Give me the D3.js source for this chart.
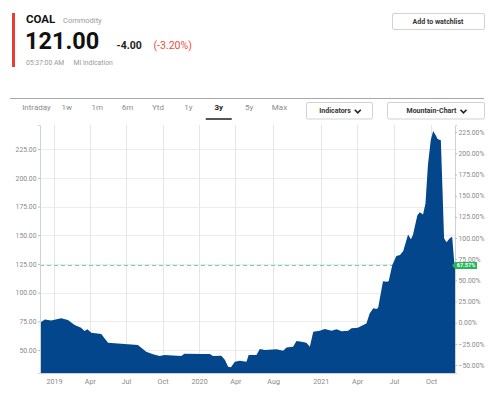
<!DOCTYPE html>
<html lang="en">
<head>
    <meta charset="UTF-8">
    <title>coal</title>
    <script src="https://cdn.jsdelivr.net/npm/d3@7/dist/d3.min.js"></script>
    <style>
        body { margin: 0; background: #fff; }
        text { font-family: Roboto, "Liberation Sans", sans-serif; }
    </style>
</head>
<body>
    <script>
        // weekly-ish closes
        var quoteDates = [
            "2018-11-27","2018-12-09","2018-12-25","2019-01-19","2019-02-05","2019-02-22","2019-03-10",
            "2019-03-19","2019-03-26","2019-04-05","2019-04-30","2019-05-08","2019-05-17","2019-06-19",
            "2019-07-31","2019-08-21","2019-09-07","2019-09-24","2019-10-06","2019-11-17","2019-11-25",
            "2020-01-10","2020-01-28","2020-02-05","2020-02-26","2020-03-06","2020-03-14","2020-03-21",
            "2020-03-31","2020-04-16","2020-05-07","2020-05-14","2020-06-08","2020-06-19","2020-07-05",
            "2020-08-12","2020-09-02","2020-09-13","2020-10-04","2020-10-15","2020-10-31","2020-11-16",
            "2020-11-27","2020-12-08","2020-12-29","2021-01-11","2021-01-28","2021-02-09","2021-02-22",
            "2021-03-10","2021-03-18","2021-04-03","2021-04-16","2021-04-24","2021-05-02","2021-05-11",
            "2021-05-19","2021-05-23","2021-06-04","2021-06-13","2021-06-18","2021-06-27","2021-07-07",
            "2021-07-16","2021-07-24","2021-08-05","2021-08-12","2021-08-17","2021-08-28","2021-09-03",
            "2021-09-11","2021-09-17","2021-09-23","2021-09-30","2021-10-06","2021-10-12","2021-10-17",
            "2021-10-25","2021-10-29","2021-11-02","2021-11-08","2021-11-16","2021-11-22","2021-11-27",
            "2021-11-29"
        ]
        var quotePrices = [
            73.8, 76.7, 75.8, 77.6, 76.1, 71.8, 69.4,
            66.5, 68.0, 65.0, 63.9, 60.2, 56.4, 55.5,
            54.4, 48.5, 46.3, 44.8, 45.6, 44.8, 46.8,
            46.5, 46.5, 44.8, 45.0, 41.3, 35.5, 34.9,
            39.8, 40.7, 39.8, 45.6, 45.6, 50.9, 50.0,
            50.6, 49.4, 52.3, 52.9, 57.8, 57.2, 56.4,
            52.9, 65.9, 66.8, 68.3, 66.8, 68.0, 66.3,
            66.8, 68.9, 69.4, 71.8, 73.2, 81.9, 86.3,
            85.7, 86.8, 110.0, 109.5, 110.0, 124.0, 132.0,
            132.7, 136.2, 150.7, 146.4, 150.1, 167.5, 169.9,
            168.1, 177.7, 211.0, 232.8, 240.7, 237.2, 233.7,
            232.8, 190.8, 147.3, 143.8, 147.3, 148.7, 126.9,
            123.67
        ]
        var tickDates = ["2019-01-01","2019-04-01","2019-07-01","2019-10-01","2020-01-01","2020-04-01",
                         "2020-08-01","2021-01-01","2021-04-01","2021-07-01","2021-10-01"]
        var priceTicks = [50, 75, 100, 125, 150, 175, 200, 225]
        var pctTicks = [-50, -25, 0, 25, 50, 75, 100, 125, 150, 175, 200, 225]
        var rangeTabs = ["Intraday","1w","1m","6m","Ytd","1y","3y","5y","Max"]
        var activeTab = "3y"

        var parse = d3.timeParse("%Y-%m-%d")
        var data = quoteDates.map(function(d, i) { return { date: parse(d), price: quotePrices[i] } })
        var ticks = tickDates.map(parse)

        var svg = d3.select("body").append("svg")
            .attr("width", 500)
            .attr("height", 398)

        // ---- header ----
        svg.append("rect").attr("x", 12).attr("y", 13).attr("width", 3).attr("height", 54).attr("fill", "#ea3b36")
        svg.append("text").attr("x", 26).attr("y", 23).attr("font-size", 11.5).attr("font-weight", 700)
            .attr("fill", "#111").text("COAL")
        svg.append("text").attr("x", 63).attr("y", 23).attr("font-size", 7.5).attr("fill", "#9a9a9a").text("Commodity")
        svg.append("text").attr("x", 25).attr("y", 49).attr("font-size", 23.5).attr("font-weight", 700)
            .attr("fill", "#111").text("121.00")
        svg.append("text").attr("x", 116.5).attr("y", 48.5).attr("font-size", 10.5).attr("font-weight", 700)
            .attr("fill", "#222").text("-4.00")
        svg.append("text").attr("x", 153.5).attr("y", 48.5).attr("font-size", 10.5)
            .attr("fill", "#ee4b45").text("(-3.20%)")
        svg.append("text").attr("x", 26).attr("y", 64.5).attr("font-size", 6.8).attr("fill", "#9a9a9a").text("05:37:00 AM")
        svg.append("text").attr("x", 73.5).attr("y", 64.5).attr("font-size", 6.8).attr("fill", "#9a9a9a").text("MI Indication")

        function button(x0, y0, w, h, label, chevron) {
            var g = svg.append("g")
            g.append("rect").attr("x", x0 + .5).attr("y", y0 + .5).attr("width", w).attr("height", h)
                .attr("rx", 1.5).attr("fill", "#fff").attr("stroke", "#cfd3d6")
            var t = g.append("text").attr("x", x0 + w / 2 - (chevron ? 4 : 0)).attr("y", y0 + h / 2 + 3)
                .attr("text-anchor", "middle").attr("font-size", 7).attr("font-weight", 700)
                .attr("fill", "#333").text(label)
            if (chevron) {
                var tw = t.node().getComputedTextLength()
                var cx = x0 + w / 2 - 4 + tw / 2 + 7, cy = y0 + h / 2 + 1
                g.append("path").attr("d", "M" + (cx - 3) + "," + (cy - 1.5) + "L" + cx + "," + (cy + 1.5) + "L" + (cx + 3) + "," + (cy - 1.5))
                    .attr("fill", "none").attr("stroke", "#222").attr("stroke-width", 1.6)
            }
        }
        button(392, 13, 92, 16, "Add to watchlist", false)

        // ---- range tabs ----
        svg.append("line").attr("x1", 10).attr("x2", 484).attr("y1", 98.5).attr("y2", 98.5)
            .attr("stroke", "#a9a9a9")
        var tabX = d3.scalePoint().domain(rangeTabs).range([36.5, 279.5])
        svg.selectAll(".tab").data(rangeTabs).enter().append("text")
            .attr("class", "tab")
            .attr("x", function(d) { return tabX(d) })
            .attr("y", 109.5)
            .attr("text-anchor", "middle")
            .attr("font-size", 8)
            .attr("font-weight", function(d) { return d == activeTab ? 700 : 400 })
            .attr("fill", function(d) { return d == activeTab ? "#222" : "#8c8c8c" })
            .text(function(d) { return d })
        svg.append("line").attr("x1", tabX(activeTab) - 13).attr("x2", tabX(activeTab) + 13)
            .attr("y1", 119).attr("y2", 119).attr("stroke", "#555").attr("stroke-width", 2)
        button(306, 102, 66, 16.5, "Indicators", true)
        button(387, 102, 97, 16.5, "Mountain-Chart", true)

        // ---- chart ----
        var plotL = 40, plotR = 455, plotT = 125, plotB = 373

        // the site spaces quotes by index, so the thin Apr-Dec 2020 stretch is squeezed;
        // a piecewise time scale reproduces that
        var x = d3.scaleTime()
            .domain([parse("2018-11-27"), parse("2019-01-01"), parse("2020-04-01"), parse("2021-01-01"), parse("2021-11-29")])
            .range([0, .0337, .4706, .6764, 1].map(function(f) { return plotL + f * (plotR - plotL) }))

        var y = d3.scaleLinear().domain([30, 246]).range([plotB, plotT])
        var base = quotePrices[0]
        var yPct = d3.scaleLinear()
            .domain(y.domain().map(function(v) { return (v / base - 1) * 100 }))
            .range([plotB, plotT])

        // grid
        svg.append("g").selectAll("line").data(priceTicks).enter().append("line")
            .attr("x1", plotL).attr("x2", plotR)
            .attr("y1", function(d) { return Math.round(y(d)) + .5 })
            .attr("y2", function(d) { return Math.round(y(d)) + .5 })
            .attr("stroke", "#ececec")
        svg.append("g").selectAll("line").data(ticks).enter().append("line")
            .attr("y1", plotT).attr("y2", plotB)
            .attr("x1", function(d) { return Math.round(x(d)) + .5 })
            .attr("x2", function(d) { return Math.round(x(d)) + .5 })
            .attr("stroke", "#e6e6e6")

        // last price line (sits behind the mountain)
        var last = data[data.length - 1]
        var lastY = Math.round(y(last.price)) + .5
        svg.append("line").attr("x1", plotL).attr("x2", plotR)
            .attr("y1", lastY).attr("y2", lastY)
            .attr("stroke", "#6fd69a").attr("stroke-dasharray", "4,3")

        var area = d3.area()
            .x(function(d) { return x(d.date) })
            .y0(plotB)
            .y1(function(d) { return y(d.price) })
        svg.append("path").datum(data)
            .attr("d", area)
            .attr("fill", "#03468b")

        // axes
        var axisL = svg.append("g").attr("transform", "translate(" + plotL + ",0)")
            .call(d3.axisLeft(y).tickValues(priceTicks).tickSize(2).tickPadding(1.5).tickFormat(d3.format(".2f")))
        var axisR = svg.append("g").attr("transform", "translate(" + plotR + ",0)")
            .call(d3.axisRight(yPct).tickValues(pctTicks).tickSize(2).tickPadding(1.5)
                .tickFormat(function(d) { return d3.format(".2f")(d) + "%" }))
        var axisB = svg.append("g").attr("transform", "translate(0," + plotB + ")")
            .call(d3.axisBottom(x).tickValues(ticks).tickSize(0).tickPadding(6)
                .tickFormat(function(d) { return d.getMonth() == 0 ? d3.timeFormat("%Y")(d) : d3.timeFormat("%b")(d) }))
        ;[axisL, axisR, axisB].forEach(function(a) {
            a.selectAll("text").attr("font-size", 6.8).attr("fill", "#8a8a8a")
                .attr("font-family", "Roboto, 'Liberation Sans', sans-serif")
            a.selectAll(".tick line").attr("stroke", "#bbb")
            a.select(".domain").attr("stroke", "#cdd2d6")
        })
        axisB.selectAll("text").attr("font-size", 7.2)

        // percent badge
        var pct = (last.price / base - 1) * 100
        var by = y(last.price)
        var badge = svg.append("g")
        badge.append("path")
            .attr("d", "M" + (plotR - 3) + "," + by + "L" + plotR + "," + (by - 3.5) + "H" + (plotR + 22) +
                "V" + (by + 3.5) + "H" + plotR + "Z")
            .attr("fill", "#27b45a")
        badge.append("text").attr("x", plotR + 11).attr("y", by + 2)
            .attr("text-anchor", "middle").attr("font-size", 5.6).attr("font-weight", 700)
            .attr("fill", "#fff").text(d3.format(".2f")(pct) + "%")
    </script>
</body>
</html>
